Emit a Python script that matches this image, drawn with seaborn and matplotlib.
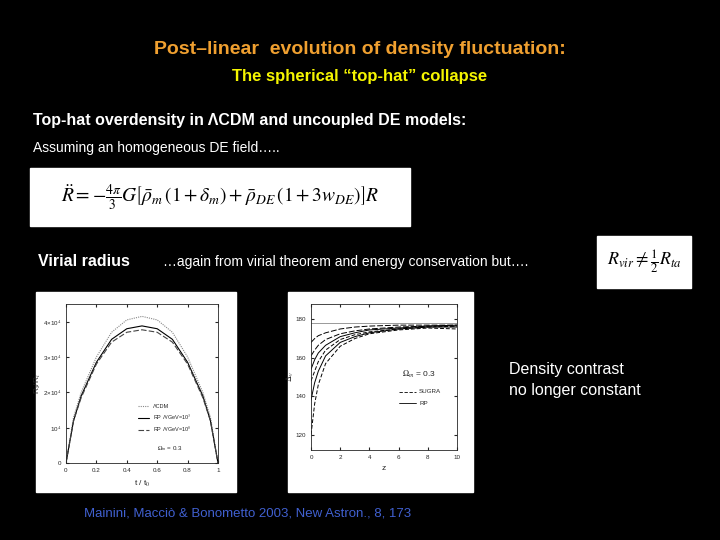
import matplotlib.pyplot as plt
import matplotlib.patches as mpatches
import numpy as np
import pandas as pd
import seaborn as sns

sns.set_style("ticks")
plt.rcParams['font.family'] = ['Liberation Sans', 'DejaVu Sans']
plt.rcParams['mathtext.fontset'] = 'stix'

# left panel: radius evolution
t_frac = [0, 0.05, 0.1, 0.2, 0.3, 0.4, 0.5, 0.6, 0.7, 0.8, 0.9, 0.95, 1.0]
r_lcdm = [0, 1.3, 2.0, 3.0, 3.7, 4.05, 4.15, 4.05, 3.7, 3.0, 2.0, 1.3, 0]
r_rp1 = [0, 1.2, 1.9, 2.85, 3.5, 3.8, 3.88, 3.8, 3.5, 2.85, 1.9, 1.2, 0]
r_rp2 = [0, 1.2, 1.85, 2.8, 3.42, 3.7, 3.77, 3.7, 3.42, 2.8, 1.85, 1.2, 0]

# right panel: density contrast vs z
z = [0, 0.25, 0.5, 1, 2, 3, 4, 6, 8, 10]
dv_curves = {
    "a": [168, 170, 171.5, 173, 175, 176, 176.5, 177, 177, 177],
    "b": [161, 164, 166.5, 169.5, 172.5, 174, 175, 176, 176.5, 176.5],
    "c": [154, 159, 162.5, 166.5, 171, 173, 174.5, 175.5, 176.5, 177],
    "d": [148, 153, 158, 164, 169.5, 172, 173.5, 175, 176, 176.5],
    "e": [138, 147, 153, 161, 168, 171, 173, 175, 176, 176],
    "f": [120, 136, 146, 157, 166, 170, 172.5, 174.5, 175.5, 175],
}
dv_eds = 178

orange = "#f0a030"
fig = plt.figure(figsize=(7.2, 5.4), dpi=100, facecolor="black")

def px(x, y, w, h):
    return [x / 720, 1 - (y + h) / 540, w / 720, h / 540]

fig.text(0.5, 1 - 50 / 540, "Post\u2013linear  evolution of density fluctuation:", color=orange,
         ha="center", va="center", fontsize=14, weight="bold")
fig.text(0.5, 1 - 77 / 540, "The spherical \u201ctop-hat\u201d collapse", color="#f5f500",
         ha="center", va="center", fontsize=12, weight="bold")
fig.text(33 / 720, 1 - 121 / 540, "Top-hat overdensity in \u039bCDM and uncoupled DE models:", color="white",
         ha="left", va="center", fontsize=11.5, weight="bold")
fig.text(33 / 720, 1 - 148 / 540, "Assuming an homogeneous DE field\u2026..", color="white",
         ha="left", va="center", fontsize=10)
fig.text(38 / 720, 1 - 262 / 540, "Virial radius", color="white", ha="left", va="center",
         fontsize=11.5, weight="bold")
fig.text(163 / 720, 1 - 262 / 540, "\u2026again from virial theorem and energy conservation but\u2026.", color="white",
         ha="left", va="center", fontsize=10)
fig.text(509 / 720, 1 - 380 / 540, "Density contrast\nno longer constant", color="white", ha="left",
         va="center", fontsize=11.5, linespacing=1.5)
fig.text(84 / 720, 1 - 513 / 540, "Mainini, Macci\u00f2 & Bonometto 2003, New Astron., 8, 173", color="#4060d0",
         ha="left", va="center", fontsize=9.5)

# white boxes behind equations and plots
for (x, y, w, h) in [(30, 168, 380, 58), (597, 236, 94, 52), (36, 292, 200, 200), (288, 292, 185, 200)]:
    fig.add_artist(mpatches.Rectangle((x / 720, 1 - (y + h) / 540), w / 720, h / 540,
                                      transform=fig.transFigure, color="white", zorder=-5))
fig.text(220 / 720, 1 - 197 / 540,
         r"$\ddot{R}=-\frac{4\pi}{3}G\left[\bar{\rho}_m\,(1+\delta_m)+\bar{\rho}_{DE}\,(1+3w_{DE})\right]R$",
         color="black", ha="center", va="center", fontsize=14)
fig.text(644 / 720, 1 - 262 / 540, r"$R_{vir}\neq\frac{1}{2}R_{ta}$", color="black",
         ha="center", va="center", fontsize=13)

# left plot
ax1 = fig.add_axes(px(66, 304, 152, 159))
df1 = pd.DataFrame({"t": t_frac * 3, "R": r_lcdm + r_rp1 + r_rp2,
                    "model": ["\u039bCDM"] * 13 + ["RP \u039b/GeV=10$^3$"] * 13 + ["RP \u039b/GeV=10$^8$"] * 13})
sns.lineplot(data=df1, x="t", y="R", hue="model", style="model",
             palette=["#888888", "black", "#444444"], dashes=[(1, 1), "", (5, 2)],
             linewidth=0.8, ax=ax1)
ax1.set_xlim(0, 1)
ax1.set_ylim(0, 4.5)
ax1.set_xticks([0, 0.2, 0.4, 0.6, 0.8, 1])
ax1.set_xticklabels(["0", "0.2", "0.4", "0.6", "0.8", "1"])
ax1.set_yticks([0, 1, 2, 3, 4])
ax1.set_yticklabels(["0", "10$^4$", "2\u00d710$^4$", "3\u00d710$^4$", "4\u00d710$^4$"])
ax1.set_xlabel("t / t$_0$", fontsize=6)
ax1.set_ylabel("R$_s$/R$_i$", fontsize=6)
ax1.yaxis.set_label_coords(-0.15, 0.5)
ax1.tick_params(labelsize=4.5, direction="in", length=2, top=True, right=True)
leg = ax1.legend(fontsize=4, frameon=False, loc="lower center", bbox_to_anchor=(0.65, 0.15), title=None)
ax1.text(0.6, 0.08, r"$\Omega_m$ = 0.3", fontsize=4.5, transform=ax1.transAxes)

# right plot
ax2 = fig.add_axes(px(311, 304, 146, 146))
df2 = pd.DataFrame({"z": z * len(dv_curves),
                    "dv": sum(dv_curves.values(), []),
                    "run": sum([[k] * len(z) for k in dv_curves], [])})
sns.lineplot(data=df2, x="z", y="dv", hue="run", style="run", palette=["black"] * 6,
             dashes=[(6, 2), (6, 2), "", (4, 2), "", (4, 2)], linewidth=0.7, legend=False, ax=ax2)
ax2.axhline(dv_eds, color="#999999", linewidth=0.7)
ax2.set_xlim(0, 10)
ax2.set_ylim(112, 188)
ax2.set_xticks([0, 2, 4, 6, 8, 10])
ax2.set_yticks([120, 140, 160, 180])
ax2.set_xlabel("z", fontsize=6)
ax2.set_ylabel("$\\Delta_v$", fontsize=6)
ax2.yaxis.set_label_coords(-0.1, 0.5)
ax2.tick_params(labelsize=4.5, direction="in", length=2, top=True, right=True)
ax2.text(0.62, 0.5, r"$\Omega_m$ = 0.3", fontsize=6, transform=ax2.transAxes)
ax2.plot([0.6, 0.72], [0.4, 0.4], color="black", lw=0.6, dashes=(4, 2), transform=ax2.transAxes)
ax2.text(0.74, 0.4, "SUGRA", fontsize=4.5, va="center", transform=ax2.transAxes)
ax2.plot([0.6, 0.72], [0.32, 0.32], color="black", lw=0.6, transform=ax2.transAxes)
ax2.text(0.74, 0.32, "RP", fontsize=4.5, va="center", transform=ax2.transAxes)
for ax in (ax1, ax2):
    for s in ax.spines.values():
        s.set_linewidth(0.6)

fig.savefig("out.png", dpi=100, facecolor="black")
